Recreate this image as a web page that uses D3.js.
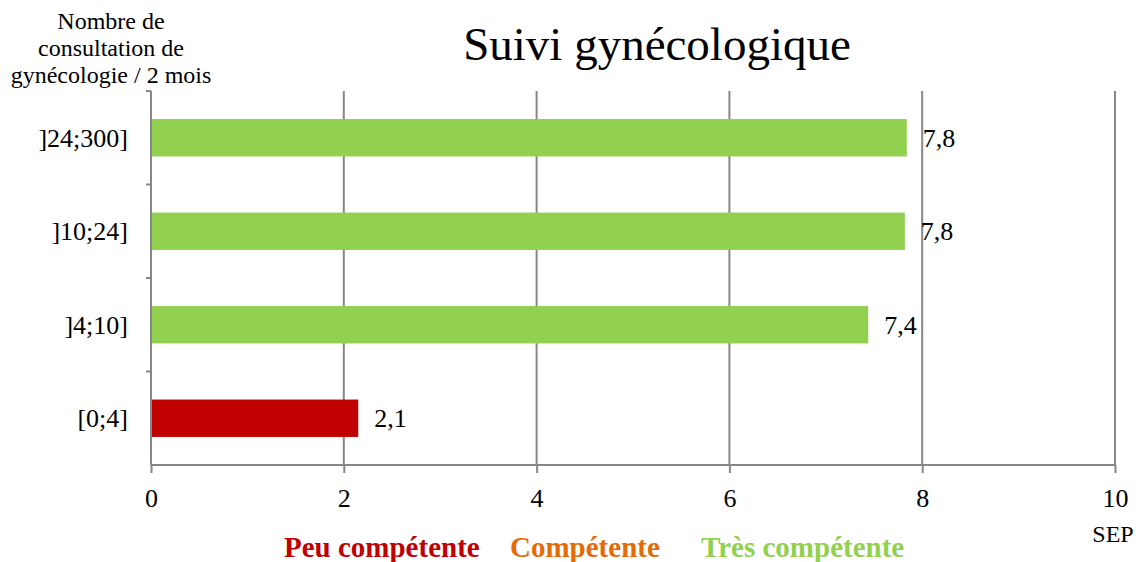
<!DOCTYPE html>
<html>
<head>
<meta charset="utf-8">
<script src="https://cdn.jsdelivr.net/npm/d3@7"></script>
<style>
  body { margin: 0; background: #fff; }
  svg text { font-family: "Liberation Serif", "Times New Roman", serif; }
</style>
</head>
<body>
<div id="chart"></div>
<script>
// data
var categories = ["[0;4]", "]4;10]", "]10;24]", "]24;300]"];
var values = [2.15, 7.44, 7.82, 7.84];
var barColors = ["#C00000", "#92D050", "#92D050", "#92D050"];
var xTicks = [0, 2, 4, 6, 8, 10];
var legendLabels = ["Peu compétente", "Compétente", "Très compétente"];
var legendColors = ["#C00000", "#E36C09", "#92D050"];

const width = 1140;
const height = 562;
const plotLeft = 151, plotRight = 1115, plotTop = 91, plotBottom = 465;
const gridColor = "#878787";
const serif = "Liberation Serif";

const svg = d3.select("#chart").append("svg")
    .attr("width", width)
    .attr("height", height);

//---------------------------SCALES-----------------------------//
var xScale = d3.scaleLinear().domain([0, 10]).range([plotLeft, plotRight]);
var yScale = d3.scaleBand().domain(categories).range([plotBottom, plotTop]).paddingInner(0.6).paddingOuter(0.3);
var yEdge = d3.scaleBand().domain(categories).range([plotBottom, plotTop]);

//---------------------------GRID-------------------------------//
svg.append("g")
    .selectAll("line")
    .data(xTicks.slice(1))
    .join("line")
    .attr("x1", d => xScale(d)).attr("x2", d => xScale(d))
    .attr("y1", plotTop).attr("y2", plotBottom)
    .attr("stroke", gridColor)
    .attr("stroke-width", 2);

//---------------------------AXES-------------------------------//
var xaxis = d3.axisBottom(xScale).tickValues(xTicks).tickSize(8).tickPadding(16);
var gx = svg.append("g")
    .attr("transform", "translate(0," + plotBottom + ")")
    .call(xaxis)
    .attr("font-family", serif)
    .attr("font-size", 26);
gx.select(".domain").attr("stroke", gridColor).attr("stroke-width", 2).attr("d", "M" + plotLeft + ",0H" + plotRight);
gx.selectAll(".tick line").attr("stroke", gridColor).attr("stroke-width", 2);
gx.selectAll(".tick text").attr("fill", "#000");

// left axis: line + tick marks at band edges
svg.append("line")
    .attr("x1", plotLeft).attr("x2", plotLeft)
    .attr("y1", plotTop).attr("y2", plotBottom)
    .attr("stroke", gridColor).attr("stroke-width", 2);
svg.append("g")
    .selectAll("line")
    .data(categories)
    .join("line")
    .attr("x1", plotLeft - 5).attr("x2", plotLeft)
    .attr("y1", d => yEdge(d)).attr("y2", d => yEdge(d))
    .attr("stroke", gridColor).attr("stroke-width", 2);

svg.append("g")
    .selectAll("text")
    .data(categories)
    .join("text")
    .attr("x", plotLeft - 23)
    .attr("y", d => yScale(d) + yScale.bandwidth() / 2)
    .attr("dy", "0.35em")
    .attr("text-anchor", "end")
    .style("font-size", "26px")
    .text(d => d);

//---------------------------BARS-------------------------------//
svg.append("g")
    .selectAll("rect")
    .data(values)
    .join("rect")
    .attr("x", xScale(0) + 1)
    .attr("y", (d, i) => yScale(categories[i]))
    .attr("width", d => xScale(d) - xScale(0) - 1)
    .attr("height", yScale.bandwidth())
    .attr("fill", (d, i) => barColors[i]);

svg.append("g")
    .selectAll("text")
    .data(values)
    .join("text")
    .attr("x", d => xScale(d) + 16)
    .attr("y", (d, i) => yScale(categories[i]) + yScale.bandwidth() / 2)
    .attr("dy", "0.35em")
    .style("font-size", "26px")
    .text(d => d3.format(".1f")(d).replace(".", ","));

//---------------------------TITLES-----------------------------//
svg.append("text")
    .attr("x", 657).attr("y", 60)
    .attr("text-anchor", "middle")
    .style("font-size", "47px")
    .text("Suivi gynécologique");

var ytitle = ["Nombre de", "consultation de", "gynécologie / 2 mois"];
svg.append("g")
    .selectAll("text")
    .data(ytitle)
    .join("text")
    .attr("x", 111)
    .attr("y", (d, i) => 29 + i * 27)
    .attr("text-anchor", "middle")
    .style("font-size", "24px")
    .text(d => d);

svg.append("text")
    .attr("x", 1113).attr("y", 542)
    .attr("text-anchor", "middle")
    .style("font-size", "24px")
    .text("SEP");

//---------------------------LEGEND-----------------------------//
var legendX = [284, 510, 701];
svg.append("g")
    .selectAll("text")
    .data(legendLabels)
    .join("text")
    .attr("x", (d, i) => legendX[i])
    .attr("y", 557)
    .attr("fill", (d, i) => legendColors[i])
    .style("font-size", "29px")
    .style("font-weight", "bold")
    .text(d => d);
</script>
</body>
</html>
